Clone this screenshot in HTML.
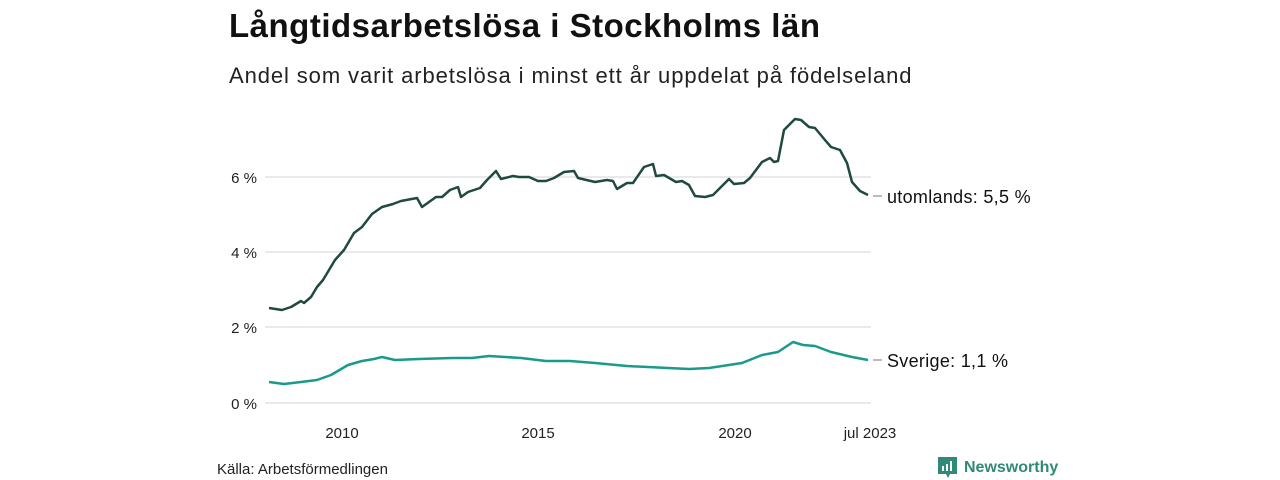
<!DOCTYPE html>
<html><head><meta charset="utf-8"><style>
body{margin:0;background:#fff;width:1280px;height:480px;overflow:hidden;font-family:"Liberation Sans",sans-serif;color:#111}
.t{position:absolute;left:229px;top:7px;font-size:33px;font-weight:bold;letter-spacing:0.5px}
.s{position:absolute;left:229px;top:63px;font-size:22px;color:#222;letter-spacing:0.9px}
</style></head><body>
<div class="t">Långtidsarbetslösa i Stockholms län</div>
<div class="s">Andel som varit arbetslösa i minst ett år uppdelat på födelseland</div>
<svg width="1280" height="480" style="position:absolute;left:0;top:0" font-family="Liberation Sans, sans-serif">
<g stroke="#e2e2e2" stroke-width="1.5">
<line x1="265" x2="871" y1="177" y2="177"/><line x1="265" x2="871" y1="252" y2="252"/>
<line x1="265" x2="871" y1="327" y2="327"/><line x1="265" x2="871" y1="403" y2="403"/>
</g>
<g font-size="15" fill="#222" text-anchor="end">
<text x="257" y="183">6 %</text><text x="257" y="258">4 %</text>
<text x="257" y="333">2 %</text><text x="257" y="409">0 %</text>
</g>
<g font-size="15" fill="#222" text-anchor="middle">
<text x="342" y="438">2010</text><text x="538" y="438">2015</text>
<text x="735" y="438">2020</text><text x="870" y="438">jul 2023</text>
</g>
<polyline fill="none" stroke="#1f4a3c" stroke-width="2.5" stroke-linejoin="round" points="269,308 282,310 291,307 301,301 304,303 311,297 317,287 323,280 335,260 344,250 354,233 362,227 372,214 382,207 393,204 401,201 417,198 422,207 436,197 442,197 450,190 458,187 461,197 468,192 480,188 487,180 496,171 501,179 513,176 519,177 529,177 538,181 546,181 554,178 564,172 574,171 578,178 595,182 607,180 613,181 617,189 627,183 633,183 644,167 653,164 656,176 664,175 676,182 682,181 689,185 695,196 705,197 713,195 719,189 729,179 734,184 744,183 750,178 762,162 770,158 774,162 778,161 784,130 795,119 801,120 809,127 815,128 825,140 831,147 840,150 847,163 852,182 860,191 868,195"/>
<polyline fill="none" stroke="#1a9a8a" stroke-width="2.5" stroke-linejoin="round" points="269,382 284,384 301,382 317,380 331,375 348,365 362,361 374,359 382,357 395,360 419,359 452,358 472,358 489,356 505,357 521,358 546,361 570,361 595,363 627,366 668,368 689,369 709,368 742,363 762,355 778,352 793,342 803,345 815,346 831,352 852,357 868,360"/>
<g stroke="#777" stroke-width="1"><line x1="873" x2="882" y1="196" y2="196"/><line x1="873" x2="882" y1="360" y2="360"/></g>
<g font-size="18" fill="#111" letter-spacing="0.3"><text x="887" y="203">utomlands: 5,5 %</text><text x="887" y="367">Sverige: 1,1 %</text></g>
<text x="217" y="474" font-size="15" fill="#222">Källa: Arbetsförmedlingen</text>
<g transform="translate(938,457)">
<path d="M0,0 H19 V17 H12 L10,21 L8,17 H0 Z" fill="#2f8a78"/>
<rect x="4" y="9" width="2" height="5" fill="#fff"/><rect x="8" y="7" width="2" height="7" fill="#fff"/><rect x="12" y="4" width="2" height="10" fill="#fff"/>
</g>
<text x="964" y="472" font-size="16" font-weight="bold" fill="#2f8a78">Newsworthy</text>
</svg>
</body></html>
